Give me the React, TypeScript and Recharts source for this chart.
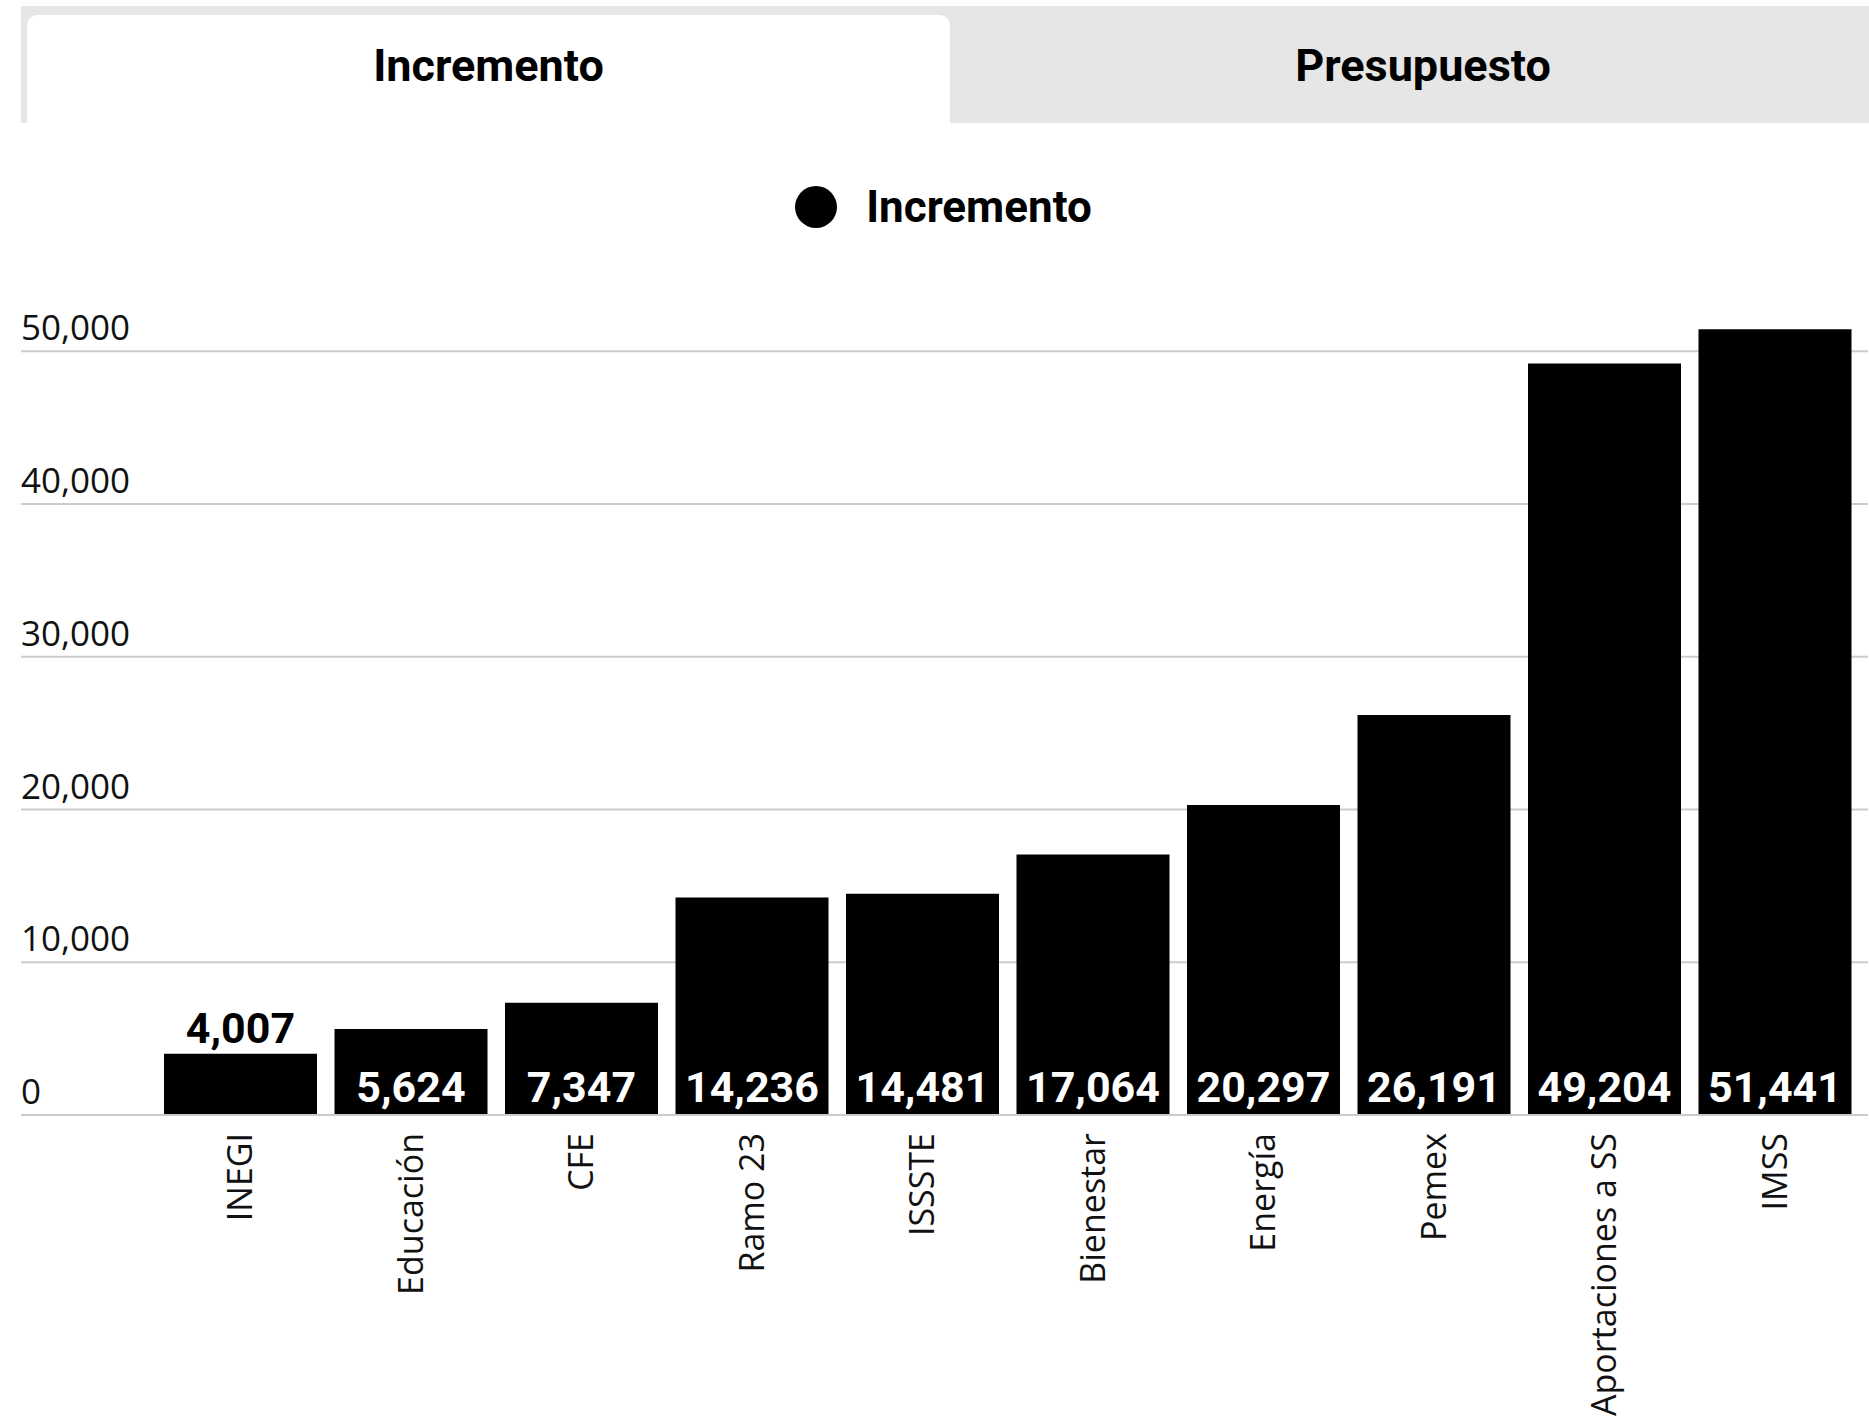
import { BarChart, Bar, XAxis, YAxis, CartesianGrid, Legend, LabelList } from 'recharts';

const categories = [
  'INEGI', 'Educación', 'CFE', 'Ramo 23', 'ISSSTE',
  'Bienestar', 'Energía', 'Pemex', 'Aportaciones a SS', 'IMSS',
];
const incremento = [4007, 5624, 7347, 14236, 14481, 17064, 20297, 26191, 49204, 51441];
const yTicks = [0, 10000, 20000, 30000, 40000, 50000];
const tabs = ['Incremento', 'Presupuesto'];
const seriesName = 'Incremento';

const data = categories.map((name, i) => ({ name, value: incremento[i] }));

const fmt = (v: number) => v.toLocaleString('en-US');

const AXIS_FONT = '"Open Sans", "Noto Sans", sans-serif';
const BOLD_FONT = 'Roboto, "Noto Sans", sans-serif';

function YTick({ x, y, payload }: any) {
  return (
    <text x={x} y={y - 11} textAnchor="start" fill="#111" fontSize={35} fontFamily={AXIS_FONT}>
      {fmt(payload.value)}
    </text>
  );
}

function XTick({ x, y, payload }: any) {
  return (
    <text
      transform={`translate(${x}, ${y + 18}) rotate(-90)`}
      textAnchor="end"
      dy="0.35em"
      fill="#111"
      fontSize={34}
      fontFamily={AXIS_FONT}
    >
      {payload.value}
    </text>
  );
}

function ValueLabel({ x, y, width, height, value }: any) {
  const cx = x + width / 2;
  const inside = height > 70;
  return (
    <text
      x={cx}
      y={inside ? y + height - 13 : y - 11}
      textAnchor="middle"
      fill={inside ? '#fff' : '#000'}
      fontSize={43}
      fontWeight={700}
      fontFamily={BOLD_FONT}
    >
      {fmt(value)}
    </text>
  );
}

function LegendContent() {
  return (
    <div style={{ display: 'flex', justifyContent: 'center', alignItems: 'center', height: 52, paddingLeft: 18 }}>
      <span style={{ width: 42, height: 42, borderRadius: '50%', background: '#000', display: 'inline-block' }} />
      <span style={{ marginLeft: 29, fontFamily: BOLD_FONT, fontWeight: 700, fontSize: 44, color: '#000' }}>
        {seriesName}
      </span>
    </div>
  );
}

export default function App() {
  return (
    <div style={{ position: 'absolute', left: 0, top: 0, width: 1869, height: 1418, background: '#fff', overflow: 'hidden' }}>
      <div style={{ position: 'absolute', left: 21, top: 6, width: 1848, height: 117, background: '#e6e6e6' }} />
      <div
        style={{
          position: 'absolute', left: 27, top: 15, width: 923, height: 108,
          background: '#fff', borderRadius: '10px 10px 0 0',
        }}
      />
      <div
        style={{
          position: 'absolute', left: 27, top: 15, width: 923, height: 100,
          display: 'flex', alignItems: 'center', justifyContent: 'center',
          fontFamily: BOLD_FONT, fontWeight: 700, fontSize: 45, color: '#000',
        }}
      >
        {tabs[0]}
      </div>
      <div
        style={{
          position: 'absolute', left: 950, top: 15, width: 946, height: 100,
          display: 'flex', alignItems: 'center', justifyContent: 'center',
          fontFamily: BOLD_FONT, fontWeight: 700, fontSize: 45, color: '#000',
        }}
      >
        {tabs[1]}
      </div>
      <div style={{ position: 'absolute', left: 0, top: 0 }}>
        <BarChart
          width={1869}
          height={1418}
          data={data}
          margin={{ top: 275, right: 1, bottom: 13, left: 21 }}
        >
          <CartesianGrid
            vertical={false}
            stroke="#cccccc"
            strokeWidth={2}
            horizontalValues={yTicks}
          />
          <XAxis
            dataKey="name"
            interval={0}
            height={290}
            padding={{ left: 134, right: 8 }}
            tickLine={false}
            tickSize={0}
            tickMargin={0}
            axisLine={{ stroke: '#cccccc', strokeWidth: 2 }}
            tick={<XTick />}
          />
          <YAxis
            width={1}
            mirror
            interval={0}
            domain={[0, 55000]}
            ticks={yTicks}
            axisLine={false}
            tickLine={false}
            tickSize={0}
            tickMargin={0}
            tick={<YTick />}
          />
          <Legend
            verticalAlign="middle"
            align="center"
            wrapperStyle={{ top: 181, left: 0, width: 1869 }}
            content={<LegendContent />}
          />
          <Bar dataKey="value" name={seriesName} fill="#000" barSize={153} isAnimationActive={false}>
            <LabelList dataKey="value" content={<ValueLabel />} />
          </Bar>
        </BarChart>
      </div>
    </div>
  );
}
